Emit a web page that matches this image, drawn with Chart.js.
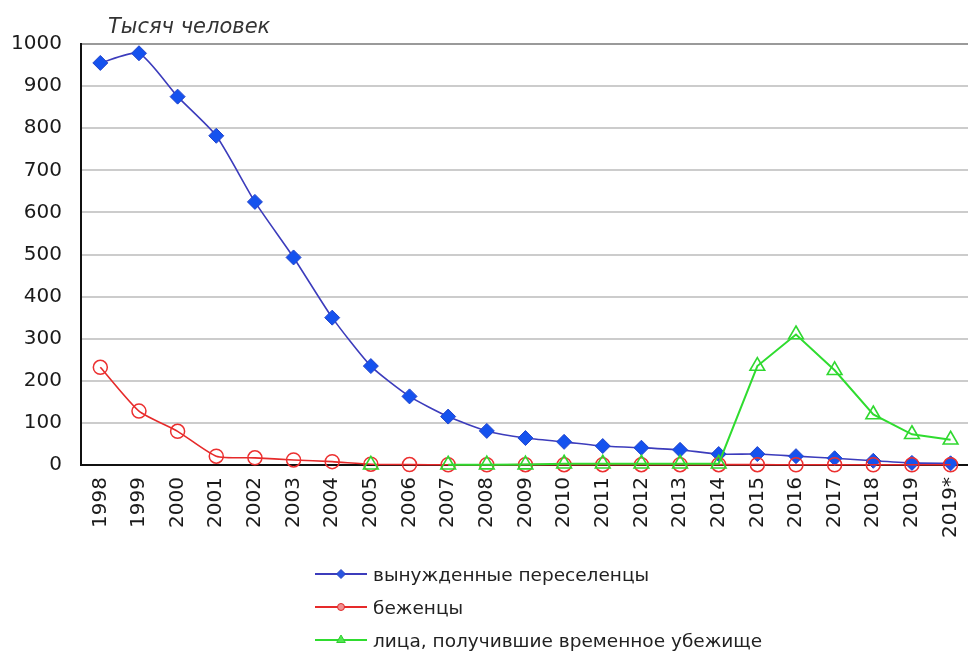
<!DOCTYPE html>
<html><head><meta charset="utf-8">
<script src="https://cdn.jsdelivr.net/npm/chart.js@4.4.1/dist/chart.umd.min.js"></script>
<style>
html,body{margin:0;padding:0;overflow:hidden;background:#fff;width:968px;height:657px}
#wrap{width:980px;height:657px}
</style></head>
<body><div id="wrap"><canvas id="c" width="980" height="657"></canvas></div>
<script>
const categories = ['1998','1999','2000','2001','2002','2003','2004','2005','2006','2007','2008','2009','2010','2011','2012','2013','2014','2015','2016','2017','2018','2019','2019*'];
const forcedMigrants = [955, 978, 875, 782, 625, 493, 350, 235, 163, 115, 81, 64, 55, 45, 41, 36, 26, 26, 21, 16, 10, 5, 4];
const refugees = [232, 128, 80, 21, 17, 12, 8, 1.9, 1.0, 0.6, 0.6, 0.8, 0.8, 0.8, 0.8, 0.8, 0.8, 0.8, 0.6, 0.6, 0.5, 0.5, 0.5];
const temporaryAsylum = [null, null, null, null, null, null, null, 0.5, null, 0.6, 0.8, 0.9, 3, 3, 3, 3, 3, 235, 310, 225, 120, 73, 60];
const seriesNames = ['вынужденные переселенцы', 'беженцы', 'лица, получившие временное убежище'];
const unitLabel = 'Тысяч человек';
const yMin = 0, yMax = 1000, yStep = 100;

const FONT = 'DejaVu Sans';

const unitTitle = {
  id: 'unitTitle',
  afterDraw(chart, args, o) {
    const ctx = chart.ctx;
    ctx.save();
    ctx.font = 'italic 21px "' + FONT + '"';
    ctx.fillStyle = '#333';
    ctx.textBaseline = 'alphabetic';
    ctx.textAlign = 'left';
    ctx.fillText(o.text, o.x, o.y);
    ctx.restore();
  }
};

const stackLegend = {
  id: 'stackLegend',
  afterDraw(chart, args, o) {
    const ctx = chart.ctx;
    ctx.save();
    chart.data.datasets.forEach((ds, i) => {
      const y = o.top + i * o.rowGap;
      const st = o.markers[i];
      ctx.strokeStyle = ds.borderColor;
      ctx.lineWidth = 2;
      ctx.beginPath();
      ctx.moveTo(o.left, y);
      ctx.lineTo(o.left + o.lineLen, y);
      ctx.stroke();
      ctx.fillStyle = st.fill;
      ctx.strokeStyle = st.stroke;
      ctx.lineWidth = 1;
      Chart.helpers.drawPoint(ctx, {pointStyle: ds.pointStyle, radius: st.r, borderWidth: 1, rotation: 0}, o.left + o.lineLen / 2, y);
      ctx.fillStyle = '#222';
      ctx.font = '18.5px "' + FONT + '"';
      ctx.textBaseline = 'middle';
      ctx.textAlign = 'left';
      ctx.fillText(ds.label, o.left + o.lineLen + o.gap, y + o.textDy);
    });
    ctx.restore();
  }
};

new Chart(document.getElementById('c'), {
  type: 'line',
  data: {
    labels: categories,
    datasets: [
      {
        label: seriesNames[0], data: forcedMigrants,
        borderColor: '#3c3cbc', borderWidth: 1.6, tension: 0.2,
        pointStyle: 'rectRot', pointRadius: 7.5, pointBackgroundColor: '#1552ee', pointBorderColor: '#2244cc', pointBorderWidth: 1,
        clip: false, order: 3
      },
      {
        label: seriesNames[1], data: refugees,
        borderColor: '#e62a2a', borderWidth: 1.6, tension: 0.2,
        pointStyle: 'circle', pointRadius: 7, pointBackgroundColor: 'rgba(0,0,0,0)', pointBorderColor: '#ec3030', pointBorderWidth: 1.5,
        clip: false, order: 2
      },
      {
        label: seriesNames[2], data: temporaryAsylum,
        borderColor: '#2fdc2f', borderWidth: 2, tension: 0, spanGaps: false,
        pointStyle: 'triangle', pointRadius: 8.5, pointBackgroundColor: 'rgba(0,0,0,0)', pointBorderColor: '#30d830', pointBorderWidth: 1.6,
        clip: false, order: 1
      }
    ]
  },
  options: {
    responsive: false,
    animation: false,
    layout: { padding: { top: 44, right: 2, bottom: 92, left: 0 } },
    plugins: {
      legend: { display: false },
      tooltip: { enabled: false },
      unitTitle: { text: unitLabel, x: 108, y: 33 },
      stackLegend: {
        left: 315, lineLen: 52, gap: 6, top: 574, rowGap: 33, textDy: 2,
        markers: [
          { r: 4.5, fill: '#2a55e0', stroke: '#2a44c0' },
          { r: 3.5, fill: '#f09090', stroke: '#e02a2a' },
          { r: 5, fill: '#50e850', stroke: '#2fcc2f' }
        ]
      }
    },
    scales: {
      x: {
        type: 'category', offset: true,
        grid: { display: false, drawTicks: false },
        border: { display: true, color: '#111', width: 2 },
        ticks: { minRotation: 90, maxRotation: 90, autoSkip: false, padding: 12, color: '#1a1a1a', font: { family: FONT, size: 20 } },
        afterFit(s) { s.height = 100; s.paddingLeft = 0; s.paddingRight = 0; }
      },
      y: {
        min: yMin, max: yMax,
        ticks: { stepSize: yStep, padding: 19, color: '#1a1a1a', font: { family: FONT, size: 20 }, callback: v => String(v) },
        grid: { color: c => (c.tick && c.tick.value === yMax) ? '#9a9a9a' : '#cccccc', lineWidth: 2, drawTicks: false },
        border: { display: true, color: '#111', width: 2 },
        afterFit(s) { s.width = 81; }
      }
    }
  },
  plugins: [unitTitle, stackLegend]
});
</script>
</body></html>
